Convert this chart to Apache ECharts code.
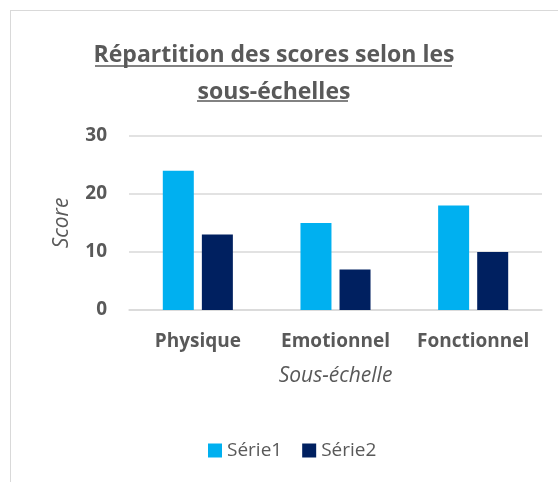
<!DOCTYPE html>
<html>
<head>
<meta charset="utf-8">
<script src="https://cdn.jsdelivr.net/npm/echarts@6/dist/echarts.min.js"></script>
<style>
	html, body { margin: 0; padding: 0; background: #fff; }
	#frame {
		position: absolute; left: 10px; top: 10px;
		width: 600px; height: 600px;
		border: 1.5px solid #d9d9d9;
	}
	#chart { position: absolute; left: 0; top: 0; width: 558px; height: 482px; }
</style>
</head>
<body>
<div id="frame"></div>
<div id="chart"></div>
<script>
	// données
	var categories = ['Physique', 'Emotionnel', 'Fonctionnel'];
	var serie1 = [24, 15, 18];
	var serie2 = [13, 7, 10];
	var seriesNames = ['Série1', 'Série2'];
	var yTicks = [0, 10, 20, 30];

	var grey = '#595959';
	var font = '"Open Sans", sans-serif';

	var myChart = echarts.init(document.getElementById('chart'));
	var option = {
		animation: false,
		color: ['#00b0f0', '#002060'],
		title: {
			text: 'Répartition des scores selon les\nsous-échelles',
			left: 269,
			top: 32,
			textAlign: 'center',
			textStyle: {
				color: grey, fontFamily: font, fontWeight: 'bold',
				fontSize: 23, lineHeight: 37
			}
		},
		// soulignement du titre
		graphic: [
			{ type: 'line', shape: { x1: 95, y1: 66, x2: 452, y2: 66 }, style: { stroke: grey, lineWidth: 1.5 } },
			{ type: 'line', shape: { x1: 197, y1: 101, x2: 348, y2: 101 }, style: { stroke: grey, lineWidth: 1.5 } }
		],
		legend: {
			data: seriesNames,
			left: 203,
			top: 436,
			itemWidth: 14,
			itemHeight: 14,
			itemGap: 20,
			icon: 'rect',
			textStyle: { color: grey, fontFamily: font, fontSize: 19 }
		},
		grid: { left: 129, right: 16, top: 136, bottom: 172 },
		xAxis: {
			type: 'category',
			data: categories,
			name: 'Sous-échelle',
			nameLocation: 'middle',
			nameGap: 56,
			nameTextStyle: { color: grey, fontFamily: font, fontStyle: 'italic', fontSize: 21 },
			axisLine: { lineStyle: { color: '#d9d9d9', width: 1.5 } },
			axisTick: { show: false },
			axisLabel: { interval: 0, color: grey, fontFamily: font, fontWeight: 'bold', fontSize: 19, margin: 22 }
		},
		yAxis: {
			type: 'value',
			min: yTicks[0],
			max: yTicks[yTicks.length - 1],
			interval: 10,
			name: 'Score',
			nameLocation: 'middle',
			nameGap: 56,
			nameTextStyle: { color: grey, fontFamily: font, fontStyle: 'italic', fontSize: 21 },
			axisLine: { show: false },
			axisTick: { show: false },
			splitLine: { lineStyle: { color: '#d9d9d9', width: 1.5 } },
			axisLabel: { color: grey, fontFamily: font, fontWeight: 'bold', fontSize: 19, margin: 22 }
		},
		series: [
			{ name: seriesNames[0], type: 'bar', data: serie1, barWidth: 31, barGap: '26%' },
			{ name: seriesNames[1], type: 'bar', data: serie2, barWidth: 31 }
		]
	};
	myChart.setOption(option);
</script>
</body>
</html>
